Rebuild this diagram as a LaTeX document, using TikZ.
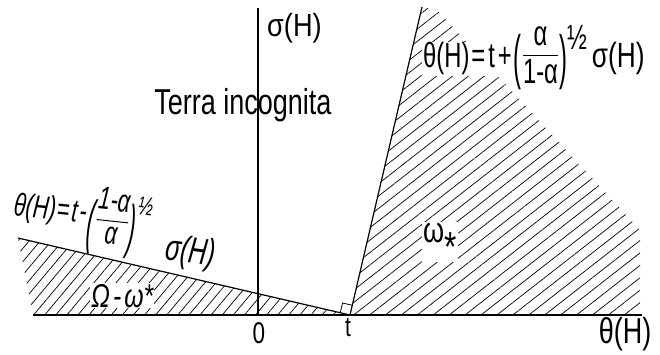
\documentclass[tikz,border=0pt]{standalone}
\usepackage{amsmath}
\usepackage{graphicx}
\usepackage{fontspec}
\setmainfont{Liberation Sans}
\newfontfamily\handA[FakeStretch=0.68]{Liberation Sans}
\newfontfamily\handB[FakeStretch=0.75]{Liberation Sans}
\newfontfamily\handC[FakeStretch=0.85]{Liberation Sans}
\usetikzlibrary{patterns.meta,calc}
\newcommand\fsz[1]{\fontsize{#1}{#1}\selectfont}
\newcommand\tallparen[3]{\raisebox{#1}{\scalebox{1}[#2]{#3}}}
\newcommand\wbox[1]{{\setlength\fboxsep{1pt}\colorbox{white}{#1}}}
\begin{document}
\begin{tikzpicture}[x=1pt,y=-1pt,
  axis/.style={line width=1.1pt},
  bound/.style={line width=1.2pt},
  hatchR/.style={pattern={Lines[angle=38,distance=9.8pt,line width=0.7pt]}},
  hatchL/.style={pattern={Lines[angle=50,distance=8.5pt,line width=0.7pt]}},
  lbl/.style={inner sep=0pt},
  blank/.style={fill=white, inner sep=1pt}]
\useasboundingbox (0,0) rectangle (660,355);
\coordinate (O) at (258,315);
\coordinate (t) at (350,315);
\coordinate (R) at (422,7);
\coordinate (L) at (18,238);
\coordinate (Xs) at (33,315);
\coordinate (Xe) at (642,315);
\coordinate (Yt) at (258,8);
\coordinate (h1) at (437,10);
\coordinate (h2) at (640,230);
\coordinate (h3) at (640,315);
% hatched regions
\fill[hatchR] (t) -- (R) -- (h1) -- (h2) -- (h3) -- cycle;
\fill[hatchL] (L) -- (t) -- (Xs) -- cycle;
% labels lying on the hatching
\node[lbl, anchor=base west, font=\handA\fsz{35}] (fR) at (422,68)
  {\wbox{θ(H)\hspace{2pt}=\hspace{3pt}t\hspace{3pt}+}\hspace{1pt}\tallparen{-9.5pt}{1.7}{(}\raisebox{6pt}{$\dfrac{\text{α}}{\text{1-α}}$}\tallparen{-9.5pt}{1.7}{)}\raisebox{18pt}{½}\hspace{5pt}{\handB σ(H)}};
\node[lbl, blank, anchor=base west, font=\handB\fsz{33}\itshape] (om) at (90,307) {Ω\hspace{3pt}-\hspace{3pt}ω*};
\node[lbl, blank, anchor=base west, font=\handB\fsz{36}] (ws) at (422,242) {ω\raisebox{-19pt}{\fsz{42}*}};
% axes and boundary lines
\draw[axis] (Xs) -- (Xe);
\draw[axis] (O) -- (Yt);
\draw[bound] (t) -- (R);
\draw[bound] (t) -- (L);
% right angle mark
\coordinate (ra) at ($(t)!10pt!(R)$);
\coordinate (rb) at ($(t)!10pt!(L)$);
\coordinate (rc) at ($(ra)+(rb)-(t)$);
\draw[line width=0.8pt] (ra) -- (rc) -- (rb);
% other labels
\node[lbl, anchor=base west, font=\handC\fsz{32}] (sy) at (267,37) {σ(H)};
\node[lbl, anchor=base, font=\handB\fsz{36}] (terra) at (243,115) {Terra incognita};
\node[lbl, anchor=base west, rotate=-6, font=\handA\fsz{32}\itshape] (fL) at (13,215)
  {θ(H)\hspace{1pt}=\hspace{2pt}t\hspace{2pt}-\hspace{2pt}\tallparen{-19pt}{1.85}{(}\raisebox{-2pt}{$\dfrac{\text{1-α}}{\text{α}}$}\tallparen{-19pt}{1.85}{)}\raisebox{14pt}{\fsz{26}½}};
\node[lbl, anchor=base west, rotate=-8, font=\handA\fsz{37}\itshape] (fLs) at (164,259) {σ(H)};
\node[lbl, font=\handB\fsz{30}] (zero) at (259,333) {0};
\node[lbl, font=\handB\fsz{28}] (tl) at (348,328) {t};
\node[lbl, font=\handB\fsz{36}] (th) at (625,334) {θ(H)};
\end{tikzpicture}
\end{document}
